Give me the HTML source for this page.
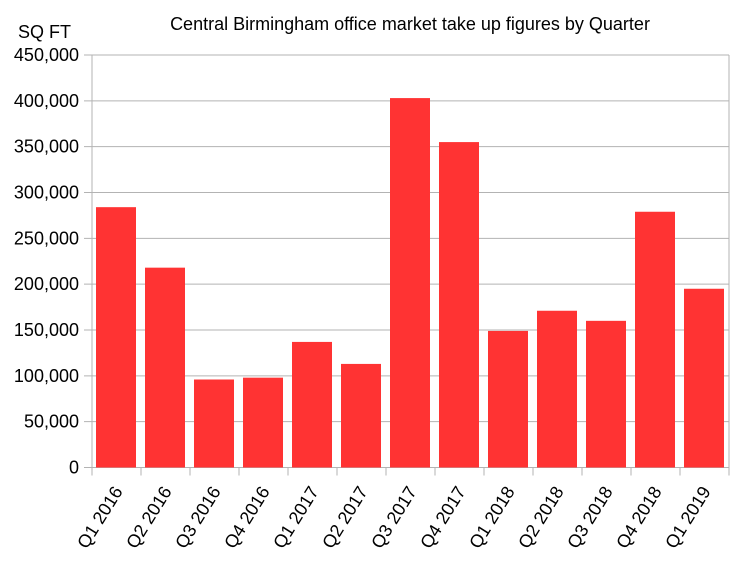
<!DOCTYPE html>
<html><head><style>body{margin:0;background:#fff}svg text{font-family:"Liberation Sans",sans-serif;fill:#000}</style></head><body>
<svg width="741" height="557" xmlns="http://www.w3.org/2000/svg">
<text x="410" y="30" font-size="18" text-anchor="middle">Central Birmingham office market take up figures by Quarter</text>
<text x="18" y="38" font-size="18">SQ FT</text>
<g id="grid" stroke="#b3b3b3" stroke-width="1"></g>
<g id="bars" fill="#ff3333"></g>
<g id="labs" font-size="18"></g>
<script>
const s="http://www.w3.org/2000/svg";
const L=92,R=729,T=55,B=467.5,H=B-T;
const g=document.getElementById('grid'),b=document.getElementById('bars'),lb=document.getElementById('labs');
function el(p,t,a,txt){const e=document.createElementNS(s,t);for(const k in a)e.setAttribute(k,a[k]);if(txt)e.textContent=txt;p.appendChild(e);return e;}
for(let i=0;i<=9;i++){const y=B-H*i/9;el(g,'line',{x1:84,x2:R,y1:y,y2:y});
el(lb,'text',{x:79,y:y+6,'text-anchor':'end'},i?(i*50)+',000':'0');}
el(g,'line',{x1:L,x2:L,y1:T,y2:B+8});el(g,'line',{x1:R,x2:R,y1:T,y2:B+8});
const v=[284,218,96,98,137,113,403,355,149,171,160,279,195];
const n=["Q1 2016","Q2 2016","Q3 2016","Q4 2016","Q1 2017","Q2 2017","Q3 2017","Q4 2017","Q1 2018","Q2 2018","Q3 2018","Q4 2018","Q1 2019"];
const w=(R-L)/13;
v.forEach((d,i)=>{const x=L+i*w;const h=H*d/450;
el(b,'rect',{x:x+4,y:B-h,width:w-9,height:h});
el(g,'line',{x1:x+w,x2:x+w,y1:B,y2:B+8});
const cx=x+w/2-4,cy=B+17;
el(lb,'text',{x:cx,y:cy,'text-anchor':'end',transform:`rotate(-58 ${cx} ${cy})`,'dominant-baseline':'hanging'},n[i]);});
</script>
</svg></body></html>
